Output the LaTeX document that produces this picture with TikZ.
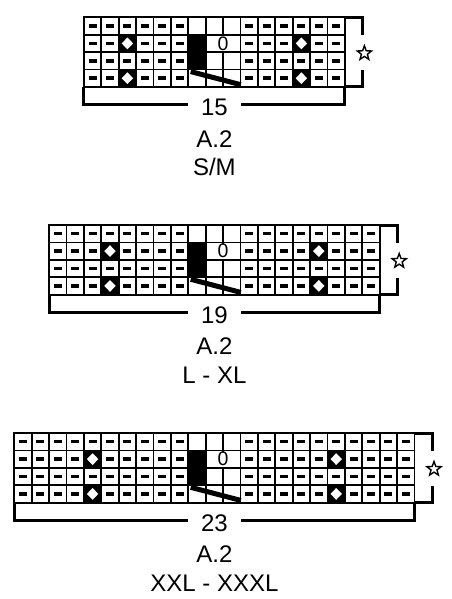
\documentclass[tikz,border=0pt]{standalone}
\usepackage{fontspec}
\setmainfont{Liberation Sans}
\usepackage{tikz}
\usetikzlibrary{positioning}
\usetikzlibrary{shapes.geometric}

% one chart: #1 name, #2 top, #3 purl columns each side, #4 stitches, #5 size
\newcommand{\stitchchart}[5]{%
  \pgfmathsetmacro{\xl}{188.3-#3*17.4}
  \pgfmathsetmacro{\xr}{188.3+(#3+3)*17.4}
  \pgfmathtruncatemacro{\nc}{2*#3+2}
  \pgfmathtruncatemacro{\dl}{#3/2-1}
  \pgfmathtruncatemacro{\dr}{\nc-\dl}
  \foreach \cc in {0,...,\nc} {
    \foreach \rr in {0,...,3} {
      \pgfmathtruncatemacro{\kind}{(\cc>=#3 && \cc<=#3+2) ? 0 : (((\cc==\dl || \cc==\dr) && (\rr==1 || \rr==3)) ? 2 : 1)}
      \ifnum\kind=2
        \draw[cell, fill=black] (\xl+\cc*17.4,#2+\rr*17.4) rectangle ++(17.4,17.4);
        \fill[white] (\xl+\cc*17.4+3,#2+\rr*17.4+8.7) -- ++(5.7,-5.9) -- ++(5.7,5.9) -- ++(-5.7,5.9) -- cycle;
      \else
        \draw[cell] (\xl+\cc*17.4,#2+\rr*17.4) rectangle ++(17.4,17.4);
        \ifnum\kind=1
          \node[purl] at (\xl+\cc*17.4+8.7,#2+\rr*17.4+8.7) {};
        \fi
      \fi
    }
  }
  \fill (188.3,#2+17.4) rectangle ++(17.4,34.8);
  \node[zero] (#1z) at (223.1,#2+26.1) {0};
  \draw[slant] (190.7,#2+54.3) -- (240.8,#2+67.4);
  \coordinate (#1bl) at (\xl,#2+69.6);
  \coordinate (#1br) at (\xr,#2+69.6);
  \coordinate (#1tr) at (\xr,#2);
  \node[count] (#1n) at (214.4,#2+89.6) {#4};
  \node[lbl, below=14.5pt of #1n] (#1a) {A.2};
  \node[lbl, below=11.5pt of #1a] (#1sz) {#5};
  \node[rep] (#1s) at (\xr+19.5,#2+36) {};
  \draw[brk] (#1bl) |- ([yshift=2pt]#1n.west);
  \draw[brk] ([yshift=2pt]#1n.east) -| (#1br);
  \draw[brk] (#1tr) -- ++(18,0) -- ++(0,17.5);
  \draw[brk] (#1br) -- ++(18,0) -- ++(0,-17);
}

\begin{document}
\begin{tikzpicture}[x=1pt, y=-1pt]
\tikzstyle{cell} = [draw, line width=1.8pt]
\tikzstyle{purl} = [fill=black, minimum width=8pt, minimum height=3.5pt, inner sep=0pt]
\tikzstyle{zero} = [fill=white, inner sep=0.6pt, font=\fontsize{19.5}{22}\selectfont]
\tikzstyle{slant} = [line width=5pt]
\tikzstyle{brk} = [line width=3pt, line join=miter]
\tikzstyle{count} = [inner sep=0pt, minimum width=52pt, text height=16.8pt, text depth=0pt, font=\fontsize{24}{28}\selectfont]
\tikzstyle{lbl} = [inner sep=0pt, text height=16.8pt, text depth=0pt, font=\fontsize{24}{28}\selectfont]
\tikzstyle{rep} = [draw, star, star points=5, star point ratio=2.4, minimum size=15pt, inner sep=0pt, line width=1.4pt]

\useasboundingbox (0,0) rectangle (451,599);

\stitchchart{sm}{17.3}{6}{15}{S/M}
\stitchchart{lxl}{225}{8}{19}{L - XL}
\stitchchart{xxl}{433}{10}{23}{XXL - XXXL}
\end{tikzpicture}
\end{document}
